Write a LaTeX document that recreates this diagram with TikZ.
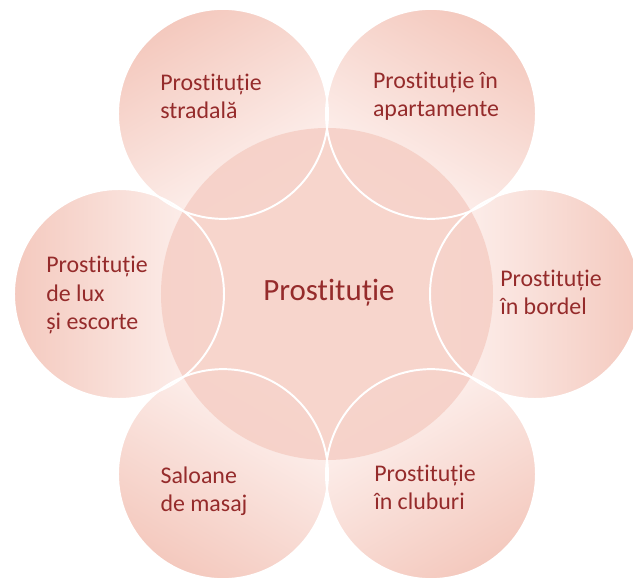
\documentclass[tikz,border=0pt]{standalone}
\usepackage{fontspec}
\setmainfont{Carlito}[Ligatures={NoCommon,NoContextual,NoRare},
                      Contextuals=NoAlternate]
\usepackage{xcolor}
\usepackage{tikz}

\definecolor{textred}{HTML}{952B2B}
\definecolor{pinkdark}{RGB}{244,201,190}
\definecolor{pinklight}{RGB}{254,245,243}
\definecolor{pinkmid}{RGB}{246,208,199}

\begin{document}
\begin{tikzpicture}
\useasboundingbox (-8.175,-7.175) rectangle (7.65,7.35);
\tikzstyle{outer}=[circle, minimum size=5.25cm, inner sep=0pt]
\foreach \a [evaluate=\a as \s using \a+90] in {0,60,...,300}{
	\node[outer, top color=pinklight, bottom color=pinkdark,
	      shading angle=\s] (o\a) at (\a:5.2){};
	}
\node[circle, minimum size=8.3cm, inner sep=0pt, fill=pinkmid,
      fill opacity=0.9] (centre) at (0,0){};
\foreach \a in {0,60,...,300}{
	\draw[white, line width=1.4pt] (o\a.center) circle (2.625);
	}
\tikzstyle{every node}=[text=textred, align=left,
                        font=\fontsize{17}{20}\selectfont]
\node (stradala) at (-2.9,4.95){Prostituție\\stradală};
\node (apart) at (2.725,4.95){Prostituție în\\apartamente};
\node (bordel) at (5.6,0.05){Prostituție\\în bordel};
\node (cluburi) at (2.45,-4.825){Prostituție\\în cluburi};
\node (masaj) at (-3.075,-4.925){Saloane\\de masaj};
\node (lux) at (-5.75,-0.025){Prostituție\\de lux\\și escorte};
\node[font=\fontsize{22}{26}\selectfont] (prost) at (0.05,0.025){Prostituție};
\end{tikzpicture}
\end{document}
